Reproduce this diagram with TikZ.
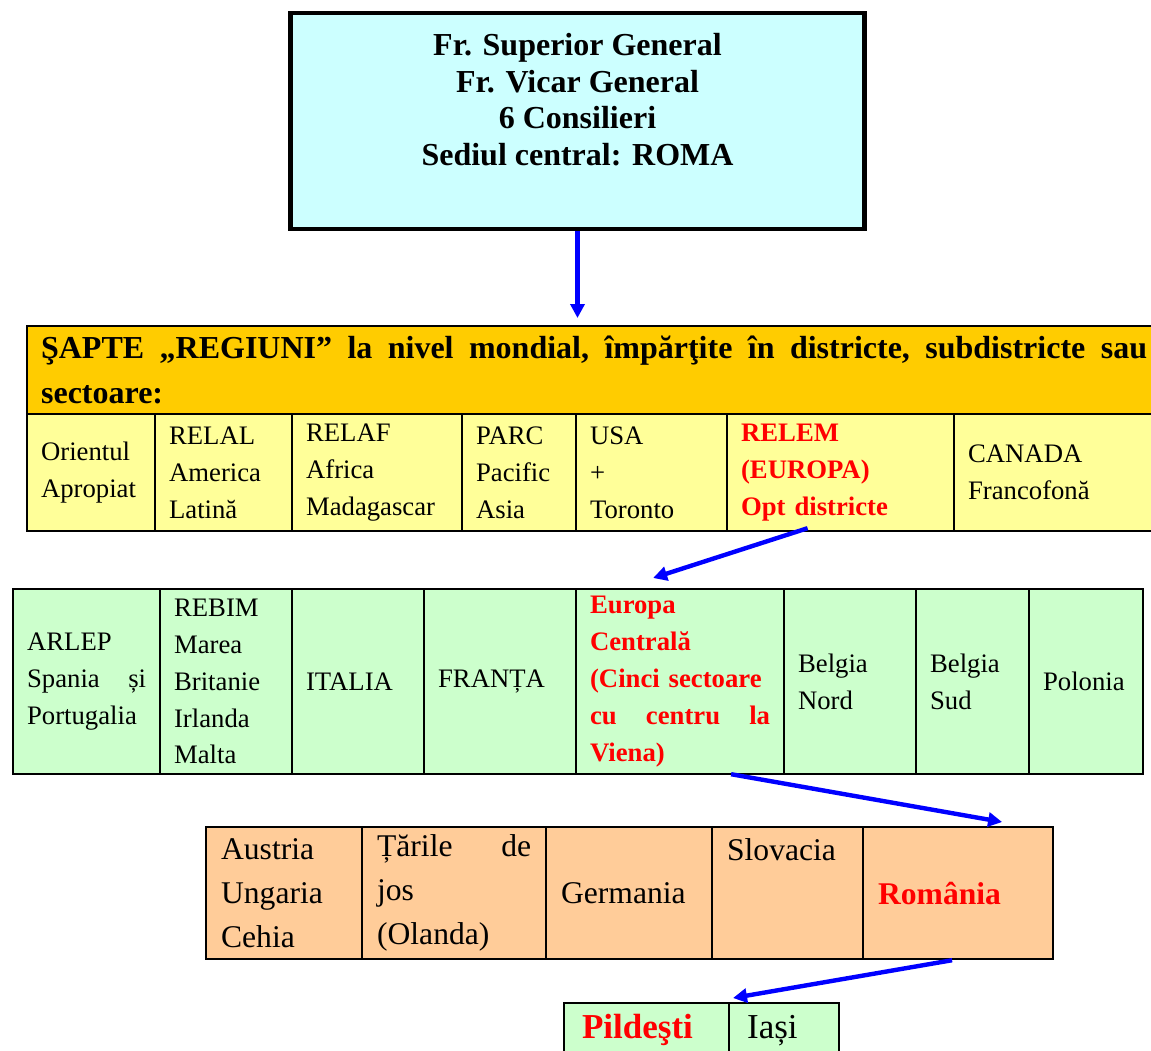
\documentclass[tikz,border=0pt]{standalone}
\usepackage{fontspec}
\setmainfont{Liberation Serif}
\usetikzlibrary{arrows.meta,calc}

\definecolor{cyanbox}{HTML}{CCFFFF}
\definecolor{orangehead}{HTML}{FFCC00}
\definecolor{yellowcell}{HTML}{FFFF99}
\definecolor{greencell}{HTML}{CCFFCC}
\definecolor{peachcell}{HTML}{FFCC99}

\def\titletext{\fontsize{16pt}{18.35pt}\selectfont\bfseries}
\def\headtext{\fontsize{16pt}{22.5pt}\selectfont\bfseries}
\def\bodytext{\fontsize{13.35pt}{18.4pt}\selectfont}
\def\bigtext{\fontsize{15.8pt}{22pt}\selectfont}
\def\localtext{\fontsize{17.5pt}{20pt}\selectfont}

\begin{document}
\begin{tikzpicture}[x=0.5pt,y=-0.5pt,
    cell/.style={draw,line width=1.1pt,anchor=north west,inner xsep=7pt,inner ysep=0pt,align=left,font=\bodytext},
    region/.style={cell,fill=yellowcell,minimum height=58.5pt},
    district/.style={cell,fill=greencell,minimum height=92.5pt},
    sector/.style={cell,fill=peachcell,inner xsep=7.5pt,minimum height=66pt,font=\bigtext},
    local/.style={cell,fill=greencell,inner xsep=9pt,minimum height=30pt,text height=17.5pt,text depth=12.5pt,font=\localtext},
    hot/.style={text=red,font=\bodytext\bfseries},
    link/.style={draw=blue,line width=2.2pt,-{Triangle[length=7pt,width=7pt]}}]

    \useasboundingbox (0,0) rectangle (1151,1050);
    \clip (0,0) rectangle (1151,1050);

    % conducerea generala
    \node[draw,line width=2.2pt,fill=cyanbox,anchor=north,minimum width=287pt,
          inner ysep=0pt,text height=76.2pt,text depth=31.8pt,align=center,font=\titletext]
        (general) at (577.5,11)
        {Fr. Superior General\\Fr. Vicar General\\6 Consilieri\\Sediul central: ROMA};

    % regiunile
    \node[cell,fill=orangehead,minimum height=44pt,text width=553pt,font=\headtext] (regiuni) at (26,325)
        {ŞAPTE\hfill „REGIUNI”\hfill la\hfill nivel\hfill mondial,\hfill împărţite\hfill în\hfill districte,\hfill subdistricte\hfill sau\\sectoare:};
    \node[region,text width=50pt] (orient) at (26,413) {Orientul\\Apropiat};
    \node[region,text width=54.5pt] (relal) at (154,413) {RELAL\\America\\Latină};
    \node[region,text width=71pt] (relaf) at (291,413) {RELAF\\Africa\\Madagascar};
    \node[region,text width=43pt] (parc) at (461,413) {PARC\\Pacific\\Asia};
    \node[region,text width=61.5pt] (usa) at (575,413) {USA\\+\\Toronto};
    \node[region,hot,text width=99.5pt] (relem) at (726,413) {RELEM\\(EUROPA)\\Opt districte};
    \node[region,text width=89.5pt] (canada) at (953,413) {CANADA\\Francofonă};

    % districtele
    \node[district,text width=59.5pt] (arlep) at (12,588) {ARLEP\\Spania\hfill și\\Portugalia};
    \node[district,text width=52pt] (rebim) at (159,588) {REBIM\\Marea\\Britanie\\Irlanda\\Malta};
    \node[district,text width=52pt] (italia) at (291,588) {ITALIA};
    \node[district,text width=62pt] (franta) at (423,588) {FRANȚA};
    \node[district,hot,text width=90pt] (centrala) at (575,588)
        {Europa\\Centrală\\(Cinci sectoare\\cu\hfill centru\hfill la\\Viena)};
    \node[district,text width=52pt] (bnord) at (783,588) {Belgia\\Nord};
    \node[district,text width=42.5pt] (bsud) at (915,588) {Belgia\\Sud};
    \node[district,text width=43pt] (polonia) at (1028,588) {Polonia};

    % sectoarele
    \node[sector,text width=63pt] (austria) at (205,826) {Austria\\Ungaria\\Cehia};
    \node[sector,text width=77pt] (tarile) at (361,826) {Țările\hfill de\\jos\\(Olanda)};
    \node[sector,text width=68pt] (germania) at (545,826) {Germania};
    \node[sector,text width=60.5pt,text depth=44pt] (slovacia) at (711,826) {Slovacia};
    \node[sector,text=red,font=\bigtext\bfseries,text width=80pt] (romania) at (862,826) {România};

    % comunitatile
    \node[local,text=red,font=\localtext\bfseries,text width=64.5pt] (pildesti) at (563,1002) {Pildeşti};
    \node[local,text width=37pt] (iasi) at (728,1002) {Iași};

    \draw[link,shorten >=3.5pt] (general.south) -- (general.south |- regiuni.north);
    \draw[link] ($(relem.south)+(-33,-4)$) -- ($(centrala.north)+(-27,-10)$);
    \draw[link] ($(centrala.south)+(51,-1)$) -- ($(romania.north)+(44,-4)$);
    \draw[link] ($(romania.south)+(-6,0)$) -- ($(iasi.north west)+(5,-4)$);

\end{tikzpicture}
\end{document}
